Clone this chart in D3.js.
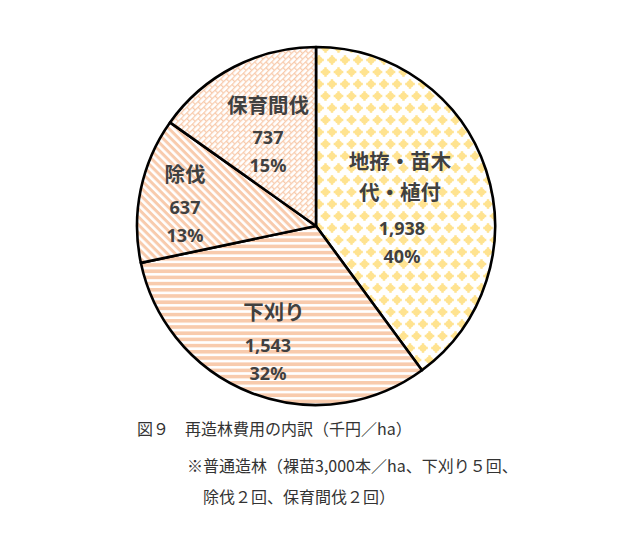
<!DOCTYPE html>
<html><head><meta charset="utf-8">
<script src="https://cdn.jsdelivr.net/npm/d3@7/dist/d3.min.js"></script>
<style>
html,body{margin:0;padding:0;background:#fff;}
svg{display:block;}
</style></head>
<body>
<svg id="c" width="630" height="554"></svg>
<script>
const categories = ["地拵・苗木\n代・植付", "下刈り", "除伐", "保育間伐"];
const values = [1938, 1543, 637, 737];
const percents = ["40%", "32%", "13%", "15%"];
const valueLabels = ["1,938", "1,543", "637", "737"];
const captionLines = ["図９　再造林費用の内訳（千円／ha）", "※普通造林（裸苗3,000本／ha、下刈り５回、", "除伐２回、保育間伐２回）"];

const svg = d3.select("#c");
const defs = svg.append("defs");
const peach = "#F8CBAD";
const yellow = "#FFE390";

// yellow blob pattern
const p1 = defs.append("pattern").attr("id","pYellow").attr("patternUnits","userSpaceOnUse")
  .attr("width",13).attr("height",24).attr("x",3).attr("y",2);
function blob(g, cx, cy){
  g.append("circle").attr("cx",cx).attr("cy",cy).attr("r",3.5).attr("fill",yellow);
  g.append("rect").attr("x",cx-4.8).attr("y",cy-1.2).attr("width",9.6).attr("height",2.4).attr("fill",yellow);
  g.append("rect").attr("x",cx-1.2).attr("y",cy-4.8).attr("width",2.4).attr("height",9.6).attr("fill",yellow);
}
p1.append("rect").attr("width",13).attr("height",24).attr("fill","#fff");
[[0,0],[13,0],[0,24],[13,24],[6.5,12]].forEach(d=>blob(p1,d[0],d[1]));

// horizontal stripes
const p2 = defs.append("pattern").attr("id","pHoriz").attr("patternUnits","userSpaceOnUse")
  .attr("width",6).attr("height",6.2);
p2.append("rect").attr("width",6).attr("height",6.2).attr("fill","#fff");
p2.append("rect").attr("y",0).attr("width",6).attr("height",3.6).attr("fill",peach);

// diagonal stripes
const p3 = defs.append("pattern").attr("id","pDiag").attr("patternUnits","userSpaceOnUse")
  .attr("width",6).attr("height",5.6).attr("patternTransform","rotate(45)");
p3.append("rect").attr("width",6).attr("height",5.6).attr("fill","#fff");
p3.append("rect").attr("width",6).attr("height",3).attr("fill",peach);

// diagonal brick lattice
const p4 = defs.append("pattern").attr("id","pBrick").attr("patternUnits","userSpaceOnUse")
  .attr("width",8).attr("height",8).attr("patternTransform","rotate(-45)");
p4.append("rect").attr("width",8).attr("height",8).attr("fill","#fff");
p4.append("path").attr("d","M0,0.6H8M0,4.6H8M0.6,0.6V4.6M4.6,4.6V8.6")
  .attr("stroke",peach).attr("stroke-width",1.3).attr("fill","none");

const fills = ["url(#pYellow)","url(#pHoriz)","url(#pDiag)","url(#pBrick)"];

const cx = 316, cy = 226, R = 179;
const pie = d3.pie().sort(null).value(d=>d).startAngle(0).endAngle(2*Math.PI);
const arcs = pie(values);
const arc = d3.arc().innerRadius(0).outerRadius(R);
const g = svg.append("g").attr("transform",`translate(${cx},${cy})`);
g.selectAll("path.slice").data(arcs).join("path").attr("class","slice")
  .attr("d",arc).attr("fill",(d,i)=>fills[i])
  .attr("stroke","#000").attr("stroke-width",2.6).attr("stroke-linejoin","round");

// labels
const labelPos = [[400,0],[268,0],[185,0],[268,0]];
const labelY = [[160,191,228,256],[311,345,373],[173,207,235],[104,137,165]];
const tc = "#404040";
arcs.forEach((a,i)=>{
  const lines = categories[i].split("\n");
  const x = labelPos[i][0];
  const ys = labelY[i];
  let k=0;
  lines.forEach(l=>{
    svg.append("text").attr("x", i===1 ? 274 : x).attr("y",ys[k++]).attr("text-anchor","middle")
      .attr("dominant-baseline","central")
      .attr("font-family","'Noto Sans CJK JP','Noto Sans',sans-serif").attr("font-weight","bold")
      .attr("font-size",20.5).attr("fill",tc).text(l);
  });
  svg.append("text").attr("x", i===0 ? 402 : x).attr("y",ys[k++]).attr("text-anchor","middle")
    .attr("dominant-baseline","central")
    .attr("font-family","'Noto Sans','Open Sans',sans-serif").attr("font-weight","bold")
    .attr("font-size",18).attr("fill",tc).text(valueLabels[i]);
  svg.append("text").attr("x", i===0 ? 402 : x).attr("y",ys[k++]).attr("text-anchor","middle")
    .attr("dominant-baseline","central")
    .attr("font-family","'Noto Sans','Open Sans',sans-serif").attr("font-weight","bold")
    .attr("font-size",18).attr("fill",tc).text(percents[i]);
});

// caption
const capX = [137,187,203], capY = [428,465,496];
captionLines.forEach((t,i)=>{
  svg.append("text").attr("x",capX[i]).attr("y",capY[i]).attr("dominant-baseline","central")
    .attr("font-family","'Noto Sans CJK JP',sans-serif").attr("font-size",16)
    .attr("fill","#333").text(t);
});
</script>
</body></html>
